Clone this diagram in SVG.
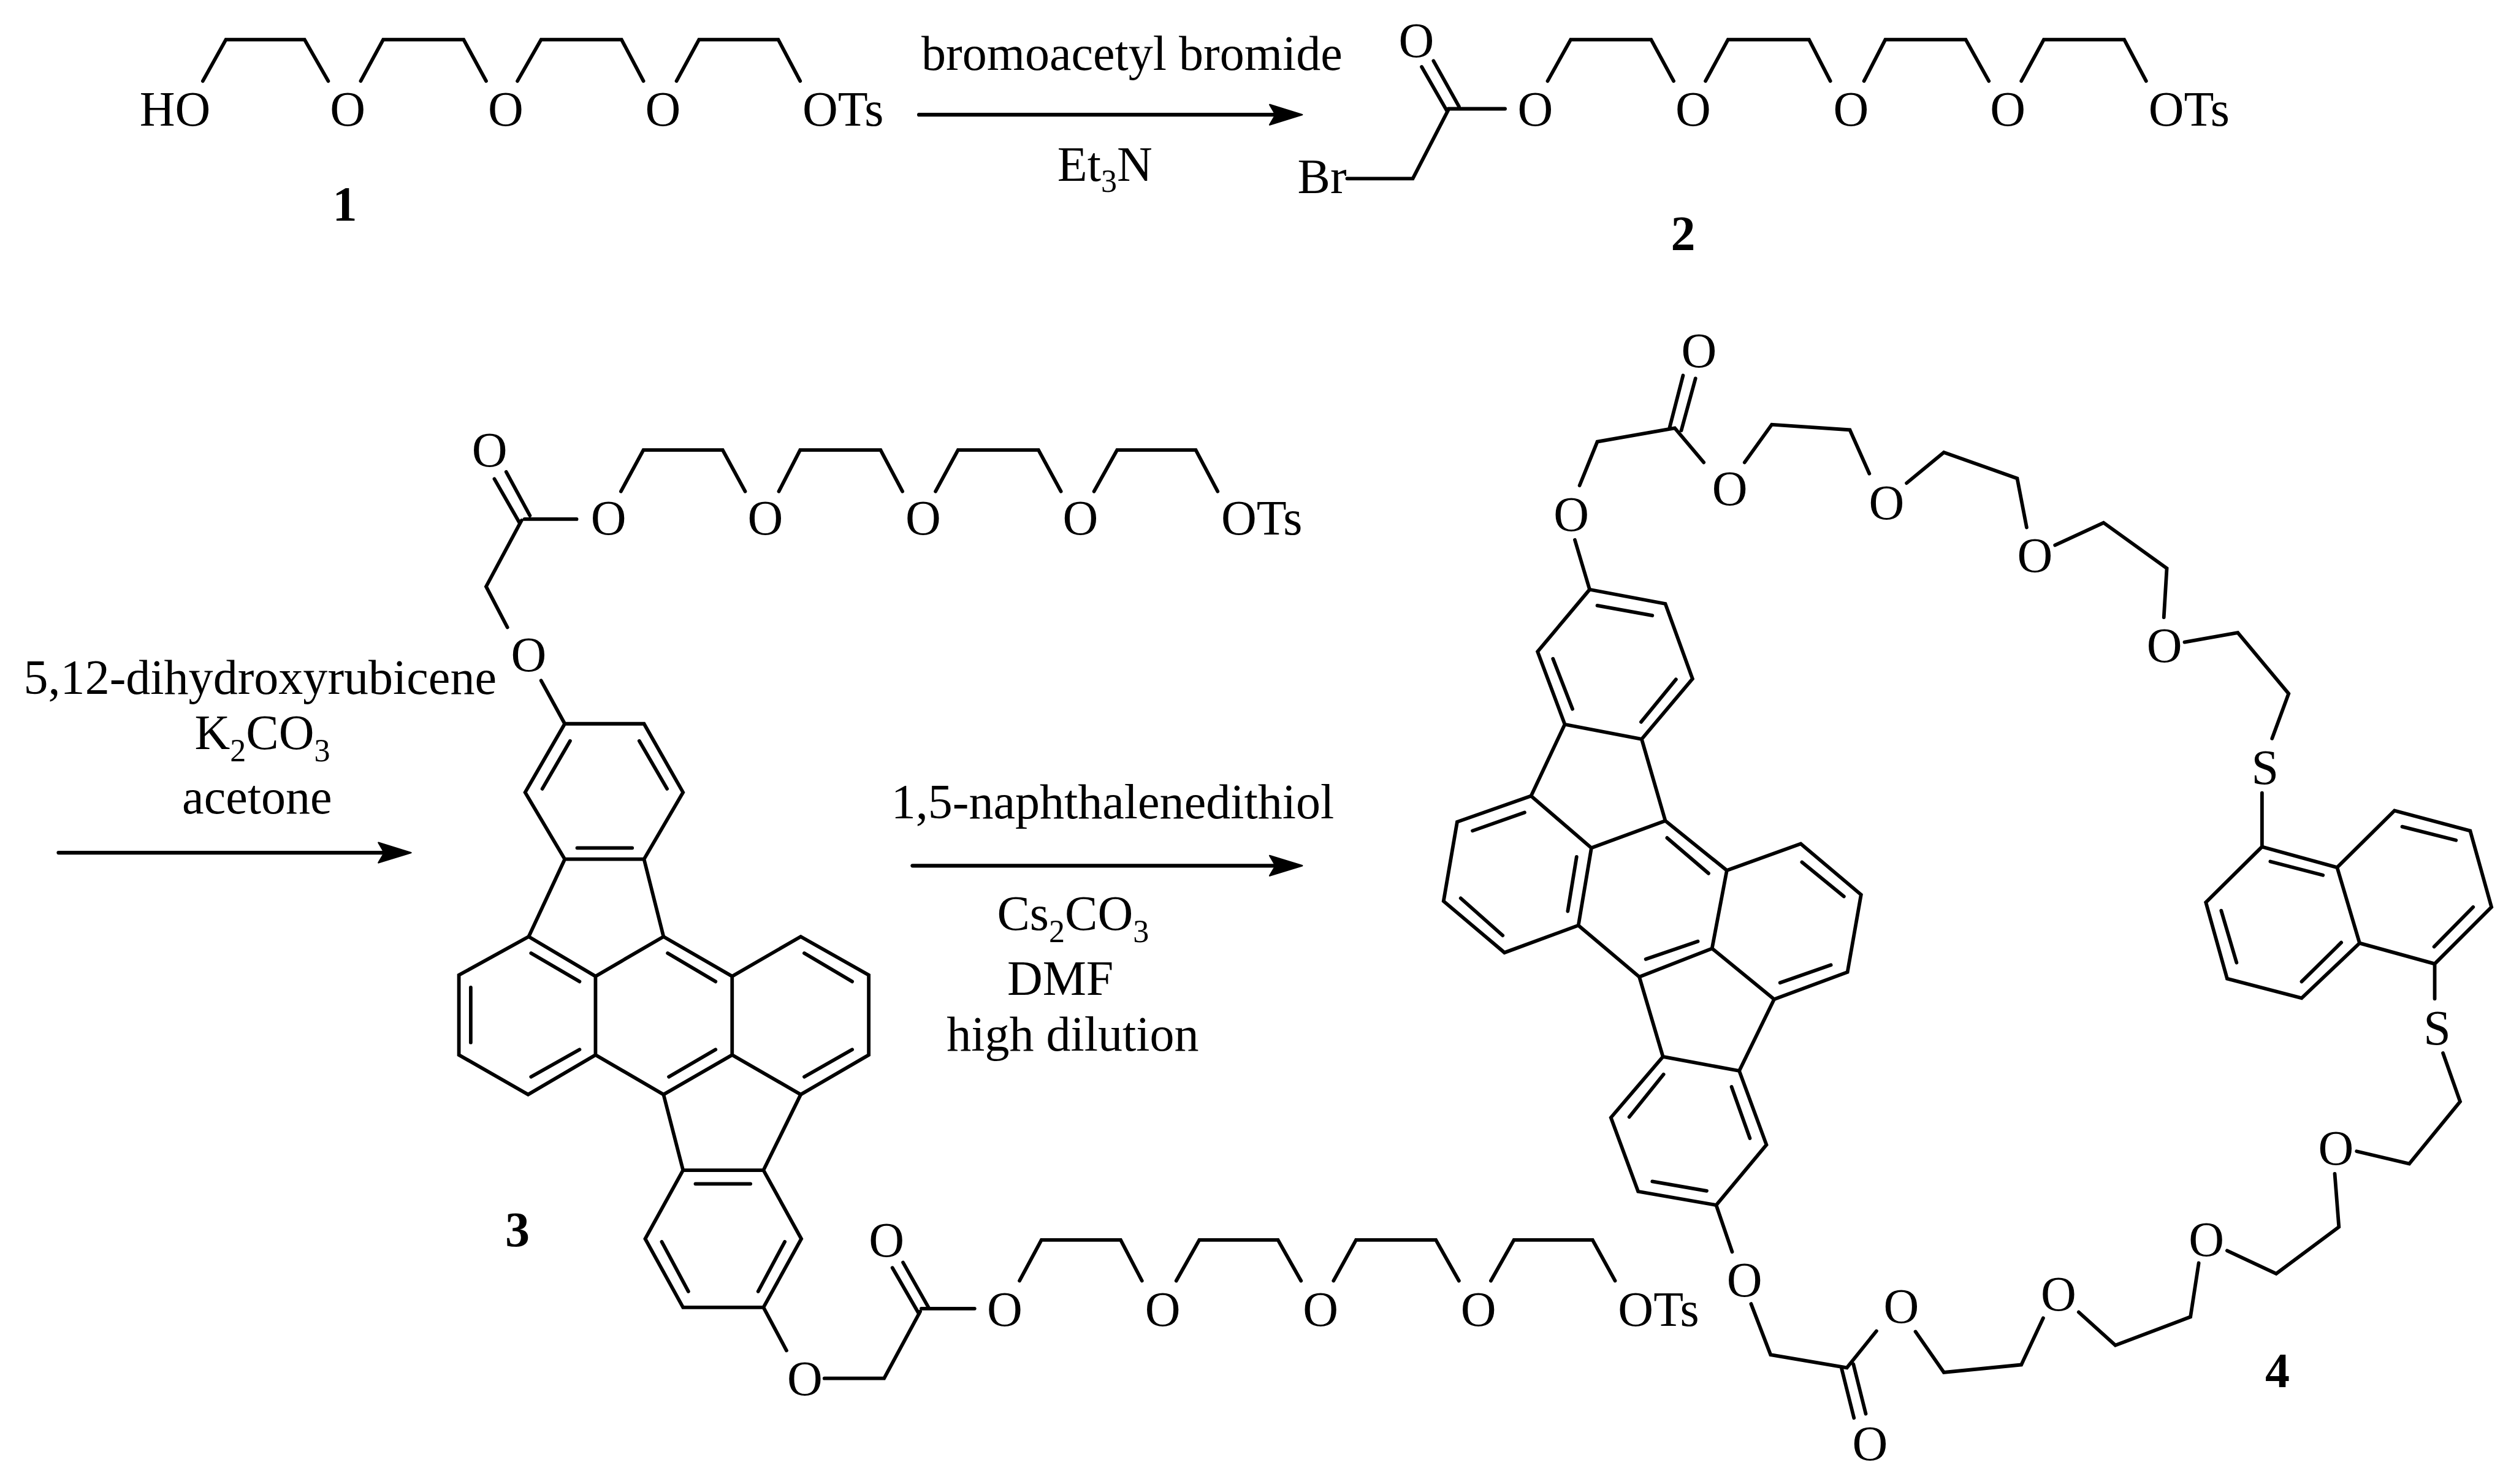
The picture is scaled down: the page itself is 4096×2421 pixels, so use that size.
<svg xmlns="http://www.w3.org/2000/svg" width="4096" height="2421" viewBox="0 0 4096 2421">
<style>
.b{fill:none;stroke:#000;stroke-width:6;stroke-linecap:round;stroke-linejoin:miter}
.a{fill:none;stroke:#000;stroke-width:6.5;stroke-linecap:round;marker-end:url(#arr)}
text{font-family:"Liberation Serif","Times New Roman",serif;font-size:83px;fill:#000}
.m{text-anchor:middle}
.n{font-weight:bold;text-anchor:middle}
.s{font-size:54px}
</style>
<defs>
<marker id="arr" markerUnits="userSpaceOnUse" markerWidth="70" markerHeight="50" refX="11" refY="20" orient="auto" overflow="visible"><path d="M1 3L56 20L1 37L11 20Z" fill="#000" stroke="#000" stroke-width="2.5" stroke-linejoin="round"/></marker>
</defs>
<rect width="4096" height="2421" fill="#fff"/>
<g transform="scale(.96467)">
<g id="compound-1">
<path class="b" d="M343 137L382 67H515L555 137M610 137L648 67H784L822 137M875 137L915 67H1051L1088 137M1144 137L1182 67H1316L1353 137"/>
<text x="236" y="212">HO</text><text class="m" x="588" y="212">O</text><text class="m" x="855" y="212">O</text><text class="m" x="1121" y="212">O</text><text x="1357" y="212">OTs</text>
<text class="n" x="583" y="373">1</text>
</g>
<g id="compound-2">
<path class="b" d="M2404 113L2447 188M2424 103L2467 180M2278 302H2389L2449 186M2449 184H2545M2617 137L2656 67H2792L2830 137M2884 137L2922 67H3059L3095 137M3152 137L3188 67H3324L3363 137M3418 137L3456 67H3592L3629 137"/>
<text class="m" x="2395" y="96">O</text><text x="2194" y="327">Br</text>
<text class="m" x="2596" y="212">O</text><text class="m" x="2863" y="212">O</text><text class="m" x="3130" y="212">O</text><text class="m" x="3395" y="212">O</text><text x="3633" y="212">OTs</text>
<text class="n" x="2846" y="423">2</text>
</g>
<g id="compound-3">
<path class="b" d="M836 810L879 885M856 798L896 872M887 878H975M882 880L822 992L858 1061M915 1151L955 1224M1050 831L1088 761H1222L1260 831M1317 831L1353 761H1489L1526 831M1582 831L1620 761H1756L1794 831M1850 831L1889 761H2022L2059 831"/>
<path class="b" d="M955 1224H1089L1155 1340L1089 1453H955L888 1340ZM964 1253L917 1334M1081 1253L1128 1334M976 1434H1069M955 1453L894 1584M1089 1453L1122 1584"/>
<path class="b" d="M894 1584L776 1649V1784L893 1851L1007 1784V1651ZM1007 1651L1122 1584L1238 1651V1784L1122 1851L1007 1784M1238 1651L1354 1584L1469 1649V1784L1354 1851L1238 1784M898 1612L980 1660M1129 1612L1210 1660M1360 1612L1441 1660M796 1670V1763M898 1821L980 1775M1131 1821L1210 1775M1360 1821L1441 1775"/>
<path class="b" d="M1122 1851L1155 1979M1354 1851L1291 1979M1155 1979H1291L1355 2095L1291 2211H1155L1091 2095ZM1176 2002H1269M1327 2100L1282 2184M1119 2100L1164 2184M1291 2211L1330 2284M1394 2331H1495L1556 2218M1509 2144L1554 2222M1527 2135L1570 2211M1558 2213H1648"/>
<path class="b" d="M1724 2166L1761 2097H1895L1931 2166M1989 2166L2028 2097H2161L2200 2166M2255 2166L2293 2097H2428L2467 2166M2521 2166L2560 2097H2693L2731 2166"/>
<text class="m" x="828" y="789">O</text><text class="m" x="894" y="1135">O</text>
<text class="m" x="1029" y="904">O</text><text class="m" x="1294" y="904">O</text><text class="m" x="1561" y="904">O</text><text class="m" x="1827" y="904">O</text><text x="2065" y="904">OTs</text>
<text class="n" x="875" y="2107">3</text>
<text class="m" x="1361" y="2359">O</text><text class="m" x="1499" y="2125">O</text>
<text class="m" x="1699" y="2242">O</text><text class="m" x="1966" y="2242">O</text><text class="m" x="2233" y="2242">O</text><text class="m" x="2500" y="2242">O</text><text x="2736" y="2242">OTs</text>
</g>
<g id="compound-4">
<path class="b" d="M2846 635L2823 724M2867 640L2843 728M2671 821L2701 747L2832 724L2881 782M2663 913L2688 997M2950 782L2996 718L3128 727L3161 801M3224 817L3287 765L3411 809L3427 892M3475 922L3557 884L3664 961L3659 1044M3694 1086L3784 1070L3870 1173L3842 1249M3825 1341V1432"/>
<path class="b" d="M2688 997L2816 1021L2862 1148L2776 1250L2646 1225L2600 1102ZM2701 1024L2794 1041M2626 1114L2659 1199M2834 1149L2775 1221M2646 1225L2589 1346M2776 1250L2816 1388"/>
<path class="b" d="M2589 1346L2464 1390L2441 1524L2544 1611L2669 1565L2691 1434ZM2691 1434L2816 1388L2920 1472L2895 1604L2772 1652L2669 1565M2920 1472L3045 1427L3147 1513L3124 1644L3000 1690L2895 1604M2490 1405L2578 1374M2470 1519L2541 1582M2651 1541L2666 1449M2819 1417L2889 1477M2783 1622L2871 1592M3047 1458L3118 1516M3010 1662L3096 1632"/>
<path class="b" d="M2772 1652L2812 1787M3000 1690L2941 1811M2812 1787L2941 1811L2987 1936L2902 2038L2770 2015L2724 1890ZM2813 1817L2755 1889M2928 1838L2959 1925M2794 1998L2886 2014M2902 2038L2929 2117"/>
<path class="b" d="M3825 1432L3730 1526L3766 1655L3892 1688L3990 1595L3952 1467ZM3952 1467L4049 1371L4177 1405L4213 1534L4117 1630L3990 1595M3839 1457L3928 1480M3756 1540L3782 1628M3892 1660L3959 1594M4062 1398L4153 1421M4116 1601L4182 1534M4117 1630V1689"/>
<path class="b" d="M4131 1781L4160 1863L4074 1968L3985 1947M3948 1985L3955 2075L3849 2154L3766 2115M3718 2136L3704 2227L3577 2275L3515 2219M3455 2229L3418 2308L3287 2321L3239 2252M3173 2251L3123 2313L2994 2291L2961 2205M3114 2314L3135 2398M3134 2307L3155 2391"/>
<text class="m" x="2873" y="621">O</text><text class="m" x="2657" y="898">O</text><text class="m" x="2925" y="854">O</text><text class="m" x="3190" y="878">O</text><text class="m" x="3441" y="967">O</text><text class="m" x="3660" y="1120">O</text>
<text class="m" x="3830" y="1326">S</text><text class="m" x="4121" y="1766">S</text>
<text class="m" x="3950" y="1970">O</text><text class="m" x="3731" y="2124">O</text><text class="m" x="3481" y="2216">O</text><text class="m" x="3215" y="2237">O</text><text class="m" x="2950" y="2192">O</text><text class="m" x="3162" y="2469">O</text>
<text class="n" x="3851" y="2346">4</text>
</g>
<g id="connectors">
<path class="a" d="M1554 194H2157"/>
<path class="a" d="M99 1442H650"/>
<path class="a" d="M1543 1464H2157"/>
</g>
<g id="labels">
<text x="1558" y="118">bromoacetyl bromide</text>
<text x="1788" y="306">Et<tspan class="s" dy="18">3</tspan><tspan dy="-18">N</tspan></text>
<text x="40" y="1173">5,12-dihydroxyrubicene</text>
<text x="329" y="1267">K<tspan class="s" dy="20">2</tspan><tspan dy="-20">CO</tspan><tspan class="s" dy="20">3</tspan></text>
<text x="308" y="1376">acetone</text>
<text x="1507" y="1384">1,5-naphthalenedithiol</text>
<text x="1686" y="1573">Cs<tspan class="s" dy="20">2</tspan><tspan dy="-20">CO</tspan><tspan class="s" dy="20">3</tspan></text>
<text class="m" x="1793" y="1682">DMF</text>
<text class="m" x="1814" y="1777">high dilution</text>
</g>
</g>
</svg>
